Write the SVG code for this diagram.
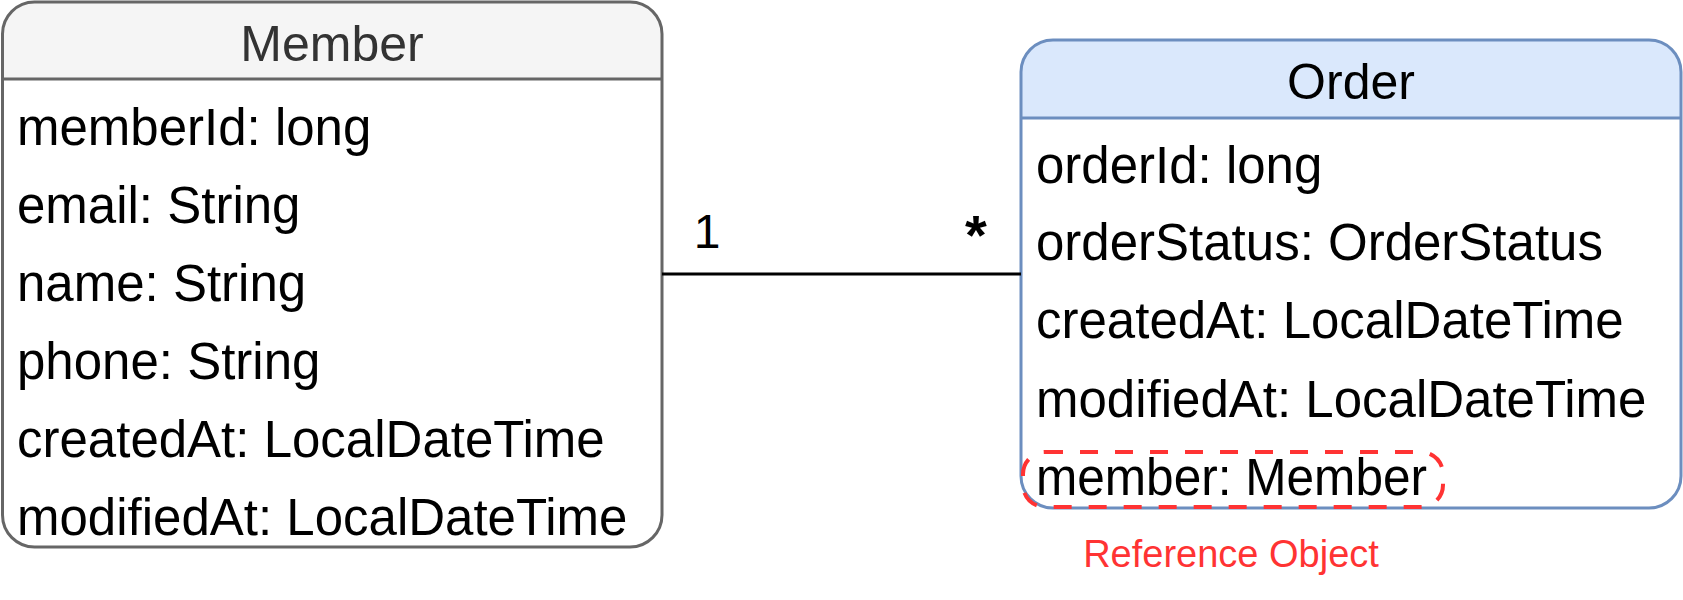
<svg xmlns="http://www.w3.org/2000/svg" width="1683" height="600" viewBox="0 0 1683 600">
  <style>
    text { font-family: "Liberation Sans", Arial, sans-serif; }
    .title { font-size: 50px; text-anchor: middle; }
    .attr { font-size: 51px; fill: #000000; }
    .mult { font-size: 48px; fill: #000000; text-anchor: middle; }
    .star { font-size: 56px; font-weight: bold; fill: #000000; text-anchor: middle; }
    .note { font-size: 38px; fill: #ff3333; text-anchor: middle; }
  </style>
  <rect width="1683" height="600" fill="#ffffff"/>
  <g id="member">
    <path d="M 34 2 H 630 A 32 32 0 0 1 662 34 V 79 H 2.5 V 34 A 32 32 0 0 1 34 2 Z" fill="#f5f5f5"/>
    <path d="M 2.5 79 H 662 V 515 A 32 32 0 0 1 630 547 H 34 A 32 32 0 0 1 2.5 515 Z" fill="#ffffff"/>
    <rect x="2.5" y="2" width="659.5" height="545" rx="32" ry="32" fill="none" stroke="#666666" stroke-width="3"/>
    <line x1="2.5" y1="79" x2="662" y2="79" stroke="#666666" stroke-width="3"/>
    <text class="title" x="332" y="61" fill="#333333">Member</text>
    <text class="attr" x="17" y="145">memberId: long</text>
    <text class="attr" x="17" y="223">email: String</text>
    <text class="attr" x="17" y="301">name: String</text>
    <text class="attr" x="17" y="379">phone: String</text>
    <text class="attr" x="17" y="457">createdAt: LocalDateTime</text>
    <text class="attr" x="17" y="535">modifiedAt: LocalDateTime</text>
  </g>
  <g id="order">
    <path d="M 1053 40 H 1649 A 32 32 0 0 1 1681 72 V 118 H 1021 V 72 A 32 32 0 0 1 1053 40 Z" fill="#dae8fc"/>
    <path d="M 1021 118 H 1681 V 476 A 32 32 0 0 1 1649 508 H 1053 A 32 32 0 0 1 1021 476 Z" fill="#ffffff"/>
    <rect x="1021" y="40" width="660" height="468" rx="32" ry="32" fill="none" stroke="#6c8ebf" stroke-width="3"/>
    <line x1="1021" y1="118" x2="1681" y2="118" stroke="#6c8ebf" stroke-width="3"/>
    <text class="title" x="1351" y="99" fill="#000000">Order</text>
    <text class="attr" x="1036" y="183">orderId: long</text>
    <text class="attr" x="1036" y="260">orderStatus: OrderStatus</text>
    <text class="attr" x="1036" y="338">createdAt: LocalDateTime</text>
    <text class="attr" x="1036" y="417">modifiedAt: LocalDateTime</text>
    <text class="attr" x="1036" y="495" textLength="391" lengthAdjust="spacingAndGlyphs">member: Member</text>
  </g>
  <g id="connectors">
    <line x1="662" y1="274" x2="1021" y2="274" stroke="#000000" stroke-width="3"/>
    <text class="mult" x="707" y="248">1</text>
    <text class="star" x="976" y="254">*</text>
  </g>
  <g id="reference-highlight">
    <rect x="1023" y="452" width="420" height="55" rx="22" ry="22" fill="none" stroke="#ff3333" stroke-width="4" stroke-dasharray="18 17"/>
    <text class="note" x="1231" y="567">Reference Object</text>
  </g>
</svg>
